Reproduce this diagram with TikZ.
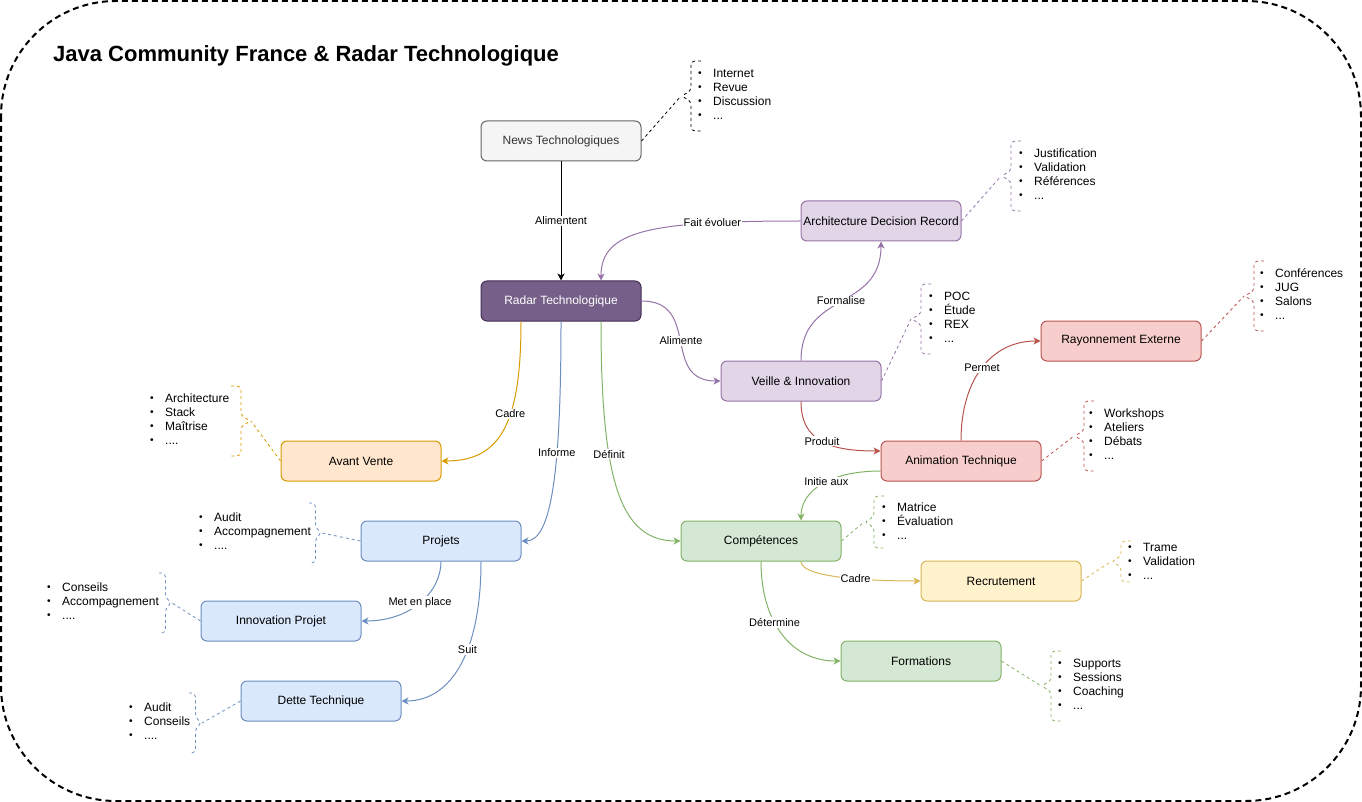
\documentclass[tikz,border=0pt]{standalone}
\usepackage{fontspec}
\setmainfont{Liberation Sans}
\usepackage{tikz}
\usetikzlibrary{arrows.meta,positioning,calc}

\definecolor{cgreyf}{HTML}{F5F5F5}\definecolor{cgreyd}{HTML}{666666}\definecolor{cgreyt}{HTML}{333333}
\definecolor{cradarf}{HTML}{76608A}\definecolor{cradard}{HTML}{432D57}
\definecolor{cpurplef}{HTML}{E1D5E7}\definecolor{cpurple}{HTML}{9673A6}
\definecolor{credf}{HTML}{F8CECC}\definecolor{cred}{HTML}{B85450}
\definecolor{corangef}{HTML}{FFE6CC}\definecolor{corange}{HTML}{D79B00}
\definecolor{cbluef}{HTML}{DAE8FC}\definecolor{cblue}{HTML}{6C8EBF}
\definecolor{cgreenf}{HTML}{D5E8D4}\definecolor{cgreen}{HTML}{82B366}
\definecolor{cyellowf}{HTML}{FFF2CC}\definecolor{cyellow}{HTML}{D6B656}

\tikzset{
  box/.style={draw, rounded corners=6pt, minimum width=160pt, minimum height=40pt,
    inner sep=0pt, line width=1pt, font=\fontsize{12}{14}\selectfont},
  boxgrey/.style={box, fill=cgreyf, draw=cgreyd, text=cgreyt},
  boxradar/.style={box, fill=cradarf, draw=cradard, text=white},
  boxpurple/.style={box, fill=cpurplef, draw=cpurple},
  boxred/.style={box, fill=credf, draw=cred},
  boxorange/.style={box, fill=corangef, draw=corange},
  boxblue/.style={box, fill=cbluef, draw=cblue},
  boxgreen/.style={box, fill=cgreenf, draw=cgreen},
  boxyellow/.style={box, fill=cyellowf, draw=cyellow},
  link/.style={line width=1pt, -{Stealth[length=7pt,width=7pt,inset=2pt]}},
  lbl/.style={fill=white, text=black, inner sep=1pt, font=\fontsize{11}{13}\selectfont},
  note/.style={line width=0.8pt, dash pattern=on 3pt off 3pt},
  brace/.style={note, rounded corners=4pt},
  lst/.style={anchor=west, inner sep=0pt, align=left, font=\fontsize{12}{14}\selectfont},
  frame/.style={line width=2pt, dash pattern=on 6pt off 4pt, rounded corners=115pt}
}
\newcommand{\itm}[1]{\makebox[15pt][l]{\raisebox{0.5pt}{\scalebox{0.85}{\textbullet}}}#1}
% brace: colour, tip name, arm x, tip x, top y, bottom y
\newcommand{\notebrace}[6]{%
  \pgfmathsetmacro\bracemid{(#5+#6)/2}%
  \pgfmathsetmacro\bracebar{(#3+#4)/2}%
  \draw[brace,#1] (#3,-#5) -- (\bracebar,-#5) -- (\bracebar,-\bracemid+5) -- (#4,-\bracemid)
    -- (\bracebar,-\bracemid-5) -- (\bracebar,-#6) -- (#3,-#6);
  \coordinate (#2) at (#4,-\bracemid);
}

\begin{document}
\begin{tikzpicture}[x=1pt,y=1pt]
	\useasboundingbox (0,0) rectangle (1362,-802);
	\draw[frame] (1,-1) rectangle (1361,-801);
	\node[anchor=west, inner sep=0pt, font=\fontsize{22}{26}\selectfont\bfseries] (title) at (53,-56) {Java Community France \& Radar Technologique};

	% main boxes
	\node[boxgrey] (news) at (561,-141) {News Technologiques};
	\node[boxradar] (radar) at (561,-301) {Radar Technologique};
	\node[boxpurple] (adr) at (881,-221) {Architecture Decision Record};
	\node[boxpurple] (veille) at (801,-381) {Veille \& Innovation};
	\node[boxred] (rayon) at (1121,-341) {Rayonnement Externe};
	\node[boxred] (anim) at (961,-461) {Animation Technique};
	\node[boxorange] (avant) at (361,-461) {Avant Vente};
	\node[boxblue] (projets) at (441,-541) {Projets};
	\node[boxblue] (innov) at (281,-621) {Innovation Projet};
	\node[boxblue] (dette) at (321,-701) {Dette Technique};
	\node[boxgreen] (comp) at (761,-541) {Compétences};
	\node[boxyellow] (recr) at (1001,-581) {Recrutement};
	\node[boxgreen] (form) at (921,-661) {Formations};

	% links
	\draw[link] (news) -- node[lbl]{Alimentent} (radar);
	\draw[link,cpurple] (adr.west) .. controls +(-150,0) and +(0,50) .. ([xshift=40pt]radar.north) node[lbl,pos=0.23]{Fait évoluer};
	\draw[link,cpurple] (radar.east) .. controls +(60,0) and +(-60,0) .. (veille.west) node[lbl,pos=0.5]{Alimente};
	\draw[link,cpurple] (veille.north) .. controls +(0,70) and +(0,-70) .. (adr.south) node[lbl,pos=0.5]{Formalise};
	\draw[link,cred] (veille.south) .. controls +(0,-40) and +(-50,0) .. ([yshift=10pt]anim.west) node[lbl,pos=0.5]{Produit};
	\draw[link,cred] (anim.north) .. controls +(0,60) and +(-50,0) .. (rayon.west) node[lbl,pos=0.5]{Permet};
	\draw[link,cgreen] ([yshift=-10pt]anim.west) .. controls +(-50,0) and +(0,30) .. ([xshift=40pt]comp.north) node[lbl,pos=0.45]{Initie aux};
	\draw[link,corange] ([xshift=-40pt]radar.south) .. controls +(0,-100) and +(60,0) .. (avant.east) node[lbl,pos=0.4]{Cadre};
	\draw[link,cblue] (radar.south) .. controls +(0,-150) and +(30,0) .. (projets.east) node[lbl,pos=0.36]{Informe};
	\draw[link,cgreen] ([xshift=40pt]radar.south) .. controls +(0,-160) and +(-60,0) .. (comp.west) node[lbl,pos=0.35]{Définit};
	\draw[link,cblue] (projets.south) .. controls +(0,-30) and +(50,0) .. (innov.east) node[lbl,pos=0.5]{Met en place};
	\draw[link,cblue] ([xshift=40pt]projets.south) .. controls +(0,-90) and +(50,0) .. (dette.east) node[lbl,pos=0.4]{Suit};
	\draw[link,cyellow] ([xshift=40pt]comp.south) .. controls +(0,-15) and +(-60,0) .. (recr.west) node[lbl,pos=0.62]{Cadre};
	\draw[link,cgreen] (comp.south) .. controls +(0,-60) and +(-50,0) .. (form.west) node[lbl,pos=0.4]{Détermine};

	% notes
	\notebrace{black}{newstip}{701}{681}{61}{131}
	\node[lst] (newslist) at (698,-94) {\itm{Internet}\\\itm{Revue}\\\itm{Discussion}\\\itm{...}};
	\draw[note] (news.east) -- (newstip);

	\notebrace{cpurple}{adrtip}{1021}{1001}{141}{211}
	\node[lst] (adrlist) at (1019,-174) {\itm{Justification}\\\itm{Validation}\\\itm{Références}\\\itm{...}};
	\draw[note,cpurple] (adr.east) -- (adrtip);

	\notebrace{cpurple}{veilletip}{931}{911}{284}{354}
	\node[lst] (veillelist) at (929,-317) {\itm{POC}\\\itm{Étude}\\\itm{REX}\\\itm{...}};
	\draw[note,cpurple] (veille.east) -- (veilletip);

	\notebrace{cred}{rayontip}{1264}{1244}{261}{331}
	\node[lst] (rayonlist) at (1260,-294) {\itm{Conférences}\\\itm{JUG}\\\itm{Salons}\\\itm{...}};
	\draw[note,cred] (rayon.east) -- (rayontip);

	\notebrace{cred}{animtip}{1094}{1074}{401}{471}
	\node[lst] (animlist) at (1089,-434) {\itm{Workshops}\\\itm{Ateliers}\\\itm{Débats}\\\itm{...}};
	\draw[note,cred] (anim.east) -- (animtip);

	\notebrace{cgreen}{comptip}{884}{864}{496}{548}
	\node[lst] (complist) at (882,-521) {\itm{Matrice}\\\itm{Évaluation}\\\itm{...}};
	\draw[note,cgreen] (comp.east) -- (comptip);

	\notebrace{cyellow}{recrtip}{1131}{1111}{541}{582}
	\node[lst] (recrlist) at (1128,-561) {\itm{Trame}\\\itm{Validation}\\\itm{...}};
	\draw[note,cyellow] (recr.east) -- (recrtip);

	\notebrace{cgreen}{formtip}{1061}{1041}{651}{721}
	\node[lst] (formlist) at (1058,-684) {\itm{Supports}\\\itm{Sessions}\\\itm{Coaching}\\\itm{...}};
	\draw[note,cgreen] (form.east) -- (formtip);

	\notebrace{corange}{avanttip}{231}{251}{386}{456}
	\node[lst] (avantlist) at (150,-419) {\itm{Architecture}\\\itm{Stack}\\\itm{Maîtrise}\\\itm{....}};
	\draw[note,corange] (avant.west) -- (avanttip);

	\notebrace{cblue}{projetstip}{309}{322}{503}{563}
	\node[lst] (projetslist) at (199,-531) {\itm{Audit}\\\itm{Accompagnement}\\\itm{....}};
	\draw[note,cblue] (projets.west) -- (projetstip);

	\notebrace{cblue}{innovtip}{159}{172}{573}{633}
	\node[lst] (innovlist) at (47,-601) {\itm{Conseils}\\\itm{Accompagnement}\\\itm{....}};
	\draw[note,cblue] (innov.west) -- (innovtip);

	\notebrace{cblue}{dettetip}{189}{202}{693}{753}
	\node[lst] (dettelist) at (129,-721) {\itm{Audit}\\\itm{Conseils}\\\itm{....}};
	\draw[note,cblue] (dette.west) -- (dettetip);
\end{tikzpicture}
\end{document}
